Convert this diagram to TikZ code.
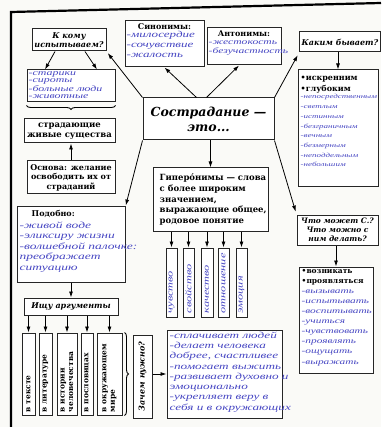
\documentclass[tikz,border=0pt]{standalone}
\usepackage{fontspec}
\setmainfont{DejaVu Serif}
\newfontfamily\handfont{Liberation Serif}[FakeStretch=1.45]
\usetikzlibrary{arrows.meta,decorations.pathreplacing,calc}
\definecolor{ink}{RGB}{70,70,195}
\definecolor{paper}{RGB}{250,250,247}
\newcommand{\fsz}[2]{\fontsize{#1}{#2}\selectfont}
\tikzset{
  pbox/.style={draw=black!85, line width=1pt, fill=white, inner sep=2pt, align=center},
  arr/.style={-{Latex[length=6pt,width=4pt]}, line width=0.8pt},
  hw/.style 2 args={text=ink, font=\handfont\itshape\fsz{#1}{#2}, align=left, inner sep=0pt},
  pb/.style 2 args={font=\bfseries\fsz{#1}{#2}, align=left, inner sep=0pt},
  pbi/.style 2 args={font=\bfseries\itshape\fsz{#1}{#2}},
  brc/.style={decorate, decoration={brace, amplitude=4pt}, line width=0.9pt}
}
\begin{document}
\begin{tikzpicture}[x=1pt,y=-1pt]
\fill[paper] (0,0) rectangle (381,427);
\useasboundingbox (0,0) rectangle (381,427);
\draw[line width=2.2pt] (11,427) -- (11,12) -- (381,3);

% main
\node[pbox, minimum width=131, minimum height=42, pbi={12.5}{15}] (main) at (208.5,119) {Сострадание —\\это...};

% K komu
\node[pbox, minimum width=88, minimum height=32] (kkomuL) at (71,86) {};
\node[pbox, minimum width=74, minimum height=22, pbi={8}{9}] (kkomu) at (69,40) {К кому\\испытываем?};
\node[hw={8.2}{7.6}, anchor=north west] (kkomuT) at ($(kkomuL.north west)+(2,1.5)$) {-старики\\-сироты\\-больные люди\\-животные};
\draw[arr] ($(kkomu.south)+(-14,0)$) -- ($(kkomuL.north)+(-26,0)$);
\draw[arr] ($(kkomu.south)+(16,0)$) -- ($(kkomuL.north)+(26,0)$);
\draw[brc, decoration={mirror}] ($(kkomuL.south west)+(0,3)$) -- ($(kkomuL.south east)+(0,3)$);
\node[pbox, minimum width=91, minimum height=24, pb={8.5}{10}, align=center] (strad) at (69.5,131) {страдающие\\живые существа};
\node[pbox, minimum width=88, minimum height=33, pb={8}{9.5}, align=center] (osnova) at (71,177.5) {Основа: желание\\освободить их от\\страданий};
\draw[arr] (osnova.north) -- (osnova.north |- strad.south);

% synonyms / antonyms
\node[pbox, minimum width=79, minimum height=46] (sinon) at (164.5,44) {};
\node[pb={8}{9}] (sinonH) at ($(sinon.north)+(0,6)$) {Синонимы:};
\node[hw={9}{10}, anchor=north west] (sinonT) at ($(sinon.north west)+(2,11)$) {-милосердие\\-сочувствие\\-жалость};
\node[pbox, minimum width=74, minimum height=37] (anton) at (244,46.5) {};
\node[pb={8}{9}] (antonH) at ($(anton.north)+(0,6)$) {Антонимы:};
\node[hw={8}{9.5}, anchor=north west] (antonT) at ($(anton.north west)+(2,13)$) {-жестокость\\-безучастность};

% kakim
\node[pbox, minimum width=76, minimum height=20, pbi={8}{9}] (kakim) at (340,42) {Каким бывает?};
\node[pbox, minimum width=80, minimum height=117] (kakimL) at (338,128.5) {};
\node[pb={8}{11.5}, anchor=north west] (kakimB) at ($(kakimL.north west)+(3,6)$) {•искренним\\•глубоким};
\node[hw={6.2}{9.7}, anchor=north west] (kakimT) at ($(kakimL.north west)+(3,25)$) {-непосредственным\\-светлым\\-истинным\\-безграничным\\-вечным\\-безмерным\\-неподдельным\\-небольшим};
\draw[arr] (kakim.south -| kakimL.north) -- (kakimL.north);

% hyperonyms
\node[pbox, minimum width=115, minimum height=63] (giper) at (210.5,199.5) {};
\node[pb={8.5}{10.8}, anchor=north west] (giperT) at ($(giper.north west)+(7,6)$) {Гиперо́нимы — слова\\с более широким\\значением,\\выражающие общее,\\родовое понятие};
\draw[arr] (main.south -| giper.north) -- (giper.north);
\foreach \n/\x/\w/\t in {g1/171.5/11/чувство, g2/188.5/11/свойство, g3/207/12/качество, g4/223.5/11/отношение, g5/241.5/11/эмоция}{
  \node[pbox, minimum width=\w, minimum height=69] (\n) at (\x,282.5) {};
  \node[hw={8.5}{8}, rotate=90, anchor=west] (\n t) at ($(\n.south)+(0,-4)$) {\t};
  \draw[arr] (\n.north |- giper.south) -- (\n.north);
}

% podobno
\node[pbox, minimum width=108, minimum height=75] (podobno) at (71,244.5) {};
\node[pb={8}{9}, anchor=north west] (podobnoH) at ($(podobno.north west)+(15,4)$) {Подобно:};
\node[hw={9.3}{10.5}, anchor=north west] (podobnoT) at ($(podobno.north west)+(3,15)$) {-живой воде\\-эликсиру жизни\\-волшебной палочке:\\преображает\\ситуацию};
\node[pbox, minimum width=94, minimum height=17, pbi={8}{9}] (ishu) at (71,306.5) {Ищу аргументы};
\draw[arr] (podobno.south -| ishu.north) -- (ishu.north);
\foreach \n/\x/\w/\t in {a1/28.5/13/{в тексте}, a2/45.5/13/{в литературе}, a3/67/20/{в истории\\человечества}, a4/87/12/{в пословицах}, a5/109.5/25/{в окружающем\\мире}}{
  \node[pbox, rotate=90, minimum width=82, minimum height=\w, text width=76, align=left, font=\bfseries\fsz{7.5}{8.5}, inner sep=1pt] (\n) at (\x,374) {\t};
  \draw[arr] (\n.east |- ishu.south) -- (\n.east);
}
\draw[brc] ($(a5.south east)+(2,0)$) -- ($(a5.south west)+(2,0)$);
\node[pbox, rotate=90, minimum width=83, minimum height=19, pbi={8}{9}] (zachem) at (142.5,376.5) {Зачем нужно?};
\node[pbox, minimum width=115, minimum height=88] (zachemL) at (224.5,374) {};
\node[hw={9.1}{10.3}, anchor=north west] (zachemT) at ($(zachemL.north west)+(3,2)$) {-сплачивает людей\\-делает человека\\добрее, счастливее\\-помогает выжить\\-развивает духовно и\\эмоционально\\-укрепляет веру в\\себя и в окружающих};
\draw[arr] (zachem.south |- zachemL.west) -- (zachemL.west);

% chto
\node[pbox, minimum width=81, minimum height=30, pbi={7.5}{9}] (chto) at (337.5,230) {Что может С.?\\Что можно с\\ним делать?};
\node[pbox, minimum width=74, minimum height=106] (chtoL) at (336,320) {};
\node[pb={7.5}{10}, anchor=north west] (chtoB) at ($(chtoL.north west)+(3,3)$) {•возникать\\•проявляться};
\node[hw={7.8}{10.1}, anchor=north west] (chtoT) at ($(chtoL.north west)+(3,23)$) {-вызывать\\-испытывать\\-воспитывать\\-учиться\\-чувствовать\\-проявлять\\-ощущать\\-выражать};
\draw[arr] (chto.south -| chtoL.north) -- (chtoL.north);

% connectors from main
\draw[arr, shorten >=2pt] (main.north west) -- (kkomu.south east);
\draw[arr] ($(main.north)+(-12,0)$) -- (sinon.south);
\draw[arr] ($(main.north)+(-2,0)$) -- ($(anton.south)+(-5,0)$);
\draw[arr, shorten >=3pt] (main.north east) -- (kakim.south west);
\draw[arr, shorten >=1pt] (main.south west) -- (podobno.north east);
\draw[arr, shorten >=3pt] (main.south east) -- (chto.north west);
\end{tikzpicture}
\end{document}
